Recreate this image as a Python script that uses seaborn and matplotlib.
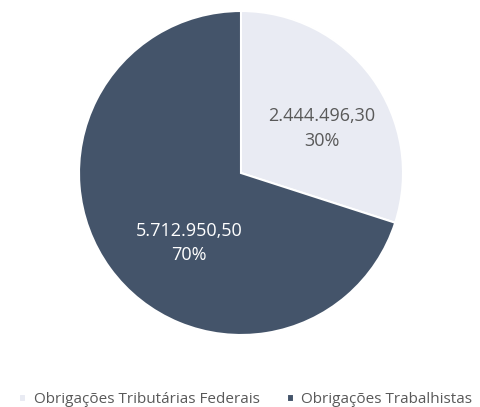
import matplotlib
matplotlib.use("Agg")
import matplotlib.pyplot as plt
import seaborn as sns

# Data
categories = ["Obrigações Tributárias Federais", "Obrigações Trabalhistas"]
values = [2444496.30, 5712950.50]
value_labels = ["2.444.496,30", "5.712.950,50"]
colours = ["#E9EBF3", "#44546A"]
text_colours = ["#595959", "#FFFFFF"]

sns.set_style("white")
plt.rcParams["font.family"] = ["Open Sans", "DejaVu Sans"]

fig = plt.figure(figsize=(4.8, 4.07), dpi=100)
ax = fig.add_axes([79 / 480, 72 / 407, 324 / 480, 324 / 407])

total = sum(values)
wedges, texts, autotexts = ax.pie(
    values, colors=colours, startangle=90, counterclock=False,
    autopct=lambda p: "", pctdistance=0.5,
    wedgeprops=dict(edgecolor="white", linewidth=1.5))

# label each slice with value and percentage (Excel-style placement)
label_pos = [(0.50, 0.275), (-0.32, -0.43)]
for i, t in enumerate(autotexts):
    pct = values[i] / total * 100
    t.set_text(f"{value_labels[i]}\n{pct:.0f}%")
    t.set_position(label_pos[i])
    t.set_color(text_colours[i])
    t.set_fontsize(13)
    t.set_ha("center")
    t.set_va("center")
    t.set_linespacing(1.45)

ax.set_aspect("equal")
ax.set_xlim(-1, 1)
ax.set_ylim(-1, 1)

fig.legend(wedges, categories, loc="lower center", bbox_to_anchor=(0.512, -0.035),
           ncol=2, frameon=False, fontsize=11, handlelength=0.45, handleheight=0.45,
           handletextpad=0.5, columnspacing=1.8, labelcolor="#595959")

plt.savefig("out.png", dpi=100)
